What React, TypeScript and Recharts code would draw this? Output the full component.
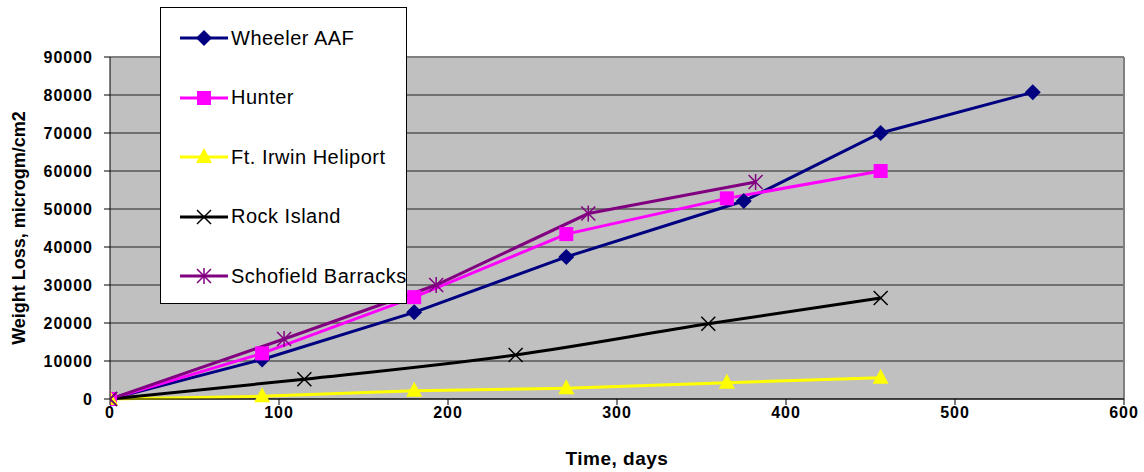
import React from "react";
import {
  LineChart,
  Line,
  XAxis,
  YAxis,
  CartesianGrid,
  Legend,
  ReferenceLine,
} from "recharts";

// Exposure time (days) and weight loss (microgm/cm2) per site
const wheelerDays = [0, 90, 180, 270, 375, 456, 546];
const wheelerLoss = [0, 10400, 22800, 37400, 52100, 70000, 80700];

const hunterDays = [0, 90, 180, 270, 365, 456];
const hunterLoss = [0, 12000, 26800, 43400, 52800, 60000];

const irwinDays = [0, 90, 180, 270, 365, 456];
const irwinLoss = [0, 700, 2200, 2800, 4300, 5600];

const rockDays = [0, 115, 240, 354, 456];
const rockLoss = [0, 5200, 11600, 19800, 26600];

const schofieldDays = [0, 103, 193, 283, 382];
const schofieldLoss = [0, 15800, 30000, 48800, 57100];

const xTicks = [0, 100, 200, 300, 400, 500, 600];
const yTicks = [0, 10000, 20000, 30000, 40000, 50000, 60000, 70000, 80000, 90000];

const seriesNames = [
  "Wheeler AAF",
  "Hunter",
  "Ft. Irwin Heliport",
  "Rock Island",
  "Schofield Barracks",
];

const toPoints = (days: number[], loss: number[]) =>
  days.map((t, i) => ({ t, v: loss[i] }));

const FONT = "'Liberation Sans', Arial, sans-serif";

type MarkerKind = "diamond" | "square" | "triangle" | "cross" | "star";

const COLORS: Record<MarkerKind, string> = {
  diamond: "#000080",
  square: "#FF00FF",
  triangle: "#FFFF00",
  cross: "#000000",
  star: "#800080",
};

function Marker({ kind, cx, cy }: { kind: MarkerKind; cx: number; cy: number }) {
  const c = COLORS[kind];
  if (kind === "diamond") {
    const r = 8;
    return (
      <polygon
        points={`${cx},${cy - r} ${cx + r},${cy} ${cx},${cy + r} ${cx - r},${cy}`}
        fill={c}
      />
    );
  }
  if (kind === "square") {
    return <rect x={cx - 7} y={cy - 7} width={14} height={14} fill={c} />;
  }
  if (kind === "triangle") {
    return (
      <polygon
        points={`${cx},${cy - 9} ${cx + 8},${cy + 6} ${cx - 8},${cy + 6}`}
        fill={c}
      />
    );
  }
  if (kind === "cross") {
    const r = 7;
    return (
      <g stroke={c} strokeWidth={1.5}>
        <line x1={cx - r} y1={cy - r} x2={cx + r} y2={cy + r} />
        <line x1={cx - r} y1={cy + r} x2={cx + r} y2={cy - r} />
      </g>
    );
  }
  const r = 7;
  return (
    <g stroke={c} strokeWidth={1.5}>
      <line x1={cx - r} y1={cy - r} x2={cx + r} y2={cy + r} />
      <line x1={cx - r} y1={cy + r} x2={cx + r} y2={cy - r} />
      <line x1={cx} y1={cy - r - 1} x2={cx} y2={cy + r + 1} />
    </g>
  );
}

const makeDot = (kind: MarkerKind) => (props: any) => {
  const { cx, cy, index } = props;
  if (cx == null || cy == null) return <g key={`${kind}-${index}`} />;
  return (
    <g key={`${kind}-${index}`}>
      <Marker kind={kind} cx={cx} cy={cy} />
    </g>
  );
};

const kinds: MarkerKind[] = ["diamond", "square", "triangle", "cross", "star"];

function LegendBox() {
  return (
    <div
      style={{
        position: "relative",
        width: 245,
        height: 295,
        border: "1px solid #000",
        background: "#fff",
        fontFamily: FONT,
        fontSize: 20,
        letterSpacing: 0.5,
        color: "#000",
        boxSizing: "content-box",
      }}
    >
      {seriesNames.map((name, i) => (
        <div
          key={name}
          style={{
            position: "absolute",
            left: 19,
            top: 30 + i * 59.5 - 15,
            height: 30,
            display: "flex",
            alignItems: "center",
            whiteSpace: "nowrap",
          }}
        >
          <svg width={48} height={20} style={{ marginRight: 3 }}>
            <line
              x1={0}
              y1={10}
              x2={48}
              y2={10}
              stroke={COLORS[kinds[i]]}
              strokeWidth={3}
            />
            <Marker kind={kinds[i]} cx={24} cy={10} />
          </svg>
          <span>{name}</span>
        </div>
      ))}
    </div>
  );
}

const tickStyle = {
  fontSize: 16,
  fontWeight: "bold" as const,
  fill: "#000",
  fontFamily: FONT,
  letterSpacing: 1,
};

export default function App() {
  const wheeler = toPoints(wheelerDays, wheelerLoss);
  const hunter = toPoints(hunterDays, hunterLoss);
  const irwin = toPoints(irwinDays, irwinLoss);
  const rock = toPoints(rockDays, rockLoss);
  const schofield = toPoints(schofieldDays, schofieldLoss);

  return (
    <div style={{ width: 1144, height: 472, fontFamily: FONT }}>
      <style>{`html, body { margin: 0; padding: 0; overflow: hidden; }`}</style>
      <LineChart
        width={1144}
        height={472}
        margin={{ top: 57, right: 20, bottom: 0, left: 0 }}
      >
        <CartesianGrid
          vertical={false}
          stroke="#222"
          strokeWidth={1}
          fill="#C0C0C0"
          fillOpacity={1}
        />
        <XAxis
          type="number"
          dataKey="t"
          domain={[0, 600]}
          ticks={xTicks}
          allowDataOverflow
          height={73}
          stroke="#000"
          tickSize={6}
          tickMargin={2}
          tick={tickStyle}
          label={{
            content: (p: any) => {
              const vb = p.viewBox;
              return (
                <text
                  x={vb.x + vb.width / 2}
                  y={vb.y + 66}
                  textAnchor="middle"
                  fontSize={19}
                  fontWeight="bold"
                  letterSpacing={0.5}
                  fontFamily={FONT}
                  fill="#000"
                >
                  Time, days
                </text>
              );
            },
          }}
        />
        <YAxis
          type="number"
          dataKey="v"
          domain={[0, 90000]}
          ticks={yTicks}
          width={110}
          stroke="#000"
          tickSize={6}
          tickMargin={11}
          tick={tickStyle}
          label={{
            content: (p: any) => {
              const vb = p.viewBox;
              const x = vb.x + 25;
              const y = vb.y + vb.height / 2;
              return (
                <text
                  x={x}
                  y={y}
                  transform={`rotate(-90 ${x} ${y})`}
                  textAnchor="middle"
                  fontSize={18}
                  fontWeight="bold"
                  fontFamily={FONT}
                  fill="#000"
                >
                  Weight Loss, microgm/cm2
                </text>
              );
            },
          }}
        />
        <ReferenceLine x={600} stroke="#808080" strokeWidth={2} ifOverflow="visible" />
        <ReferenceLine y={90000} stroke="#808080" strokeWidth={2} ifOverflow="visible" />
        <Legend
          layout="vertical"
          align="center"
          verticalAlign="middle"
          wrapperStyle={{ left: 160, top: 7, width: 247, height: 297 }}
          content={() => <LegendBox />}
        />
        <Line
          name={seriesNames[0]}
          data={wheeler}
          dataKey="v"
          type="linear"
          stroke={COLORS.diamond}
          strokeWidth={3}
          dot={makeDot("diamond")}
          activeDot={false}
          isAnimationActive={false}
        />
        <Line
          name={seriesNames[1]}
          data={hunter}
          dataKey="v"
          type="linear"
          stroke={COLORS.square}
          strokeWidth={3}
          dot={makeDot("square")}
          activeDot={false}
          isAnimationActive={false}
        />
        <Line
          name={seriesNames[2]}
          data={irwin}
          dataKey="v"
          type="linear"
          stroke={COLORS.triangle}
          strokeWidth={3}
          dot={makeDot("triangle")}
          activeDot={false}
          isAnimationActive={false}
        />
        <Line
          name={seriesNames[3]}
          data={rock}
          dataKey="v"
          type="monotone"
          stroke={COLORS.cross}
          strokeWidth={3}
          dot={makeDot("cross")}
          activeDot={false}
          isAnimationActive={false}
        />
        <Line
          name={seriesNames[4]}
          data={schofield}
          dataKey="v"
          type="linear"
          stroke={COLORS.star}
          strokeWidth={3}
          dot={makeDot("star")}
          activeDot={false}
          isAnimationActive={false}
        />
      </LineChart>
    </div>
  );
}
